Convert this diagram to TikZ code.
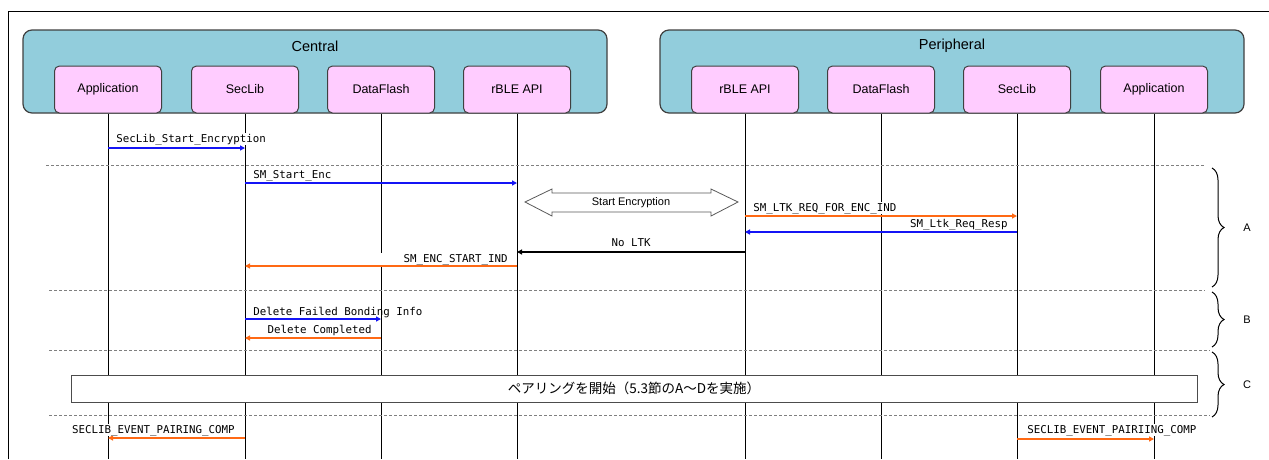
\documentclass[tikz,border=0pt]{standalone}
\usepackage{fontspec}
\setmainfont{Liberation Sans}
\newfontfamily\msgfont{DejaVu Sans Mono}
\newfontfamily\jpfont{Noto Sans CJK JP}
\usetikzlibrary{arrows.meta,decorations.pathreplacing}

\definecolor{groupblue}{RGB}{146,205,220}
\definecolor{boxpink}{RGB}{255,204,255}
\definecolor{msgblue}{RGB}{20,20,245}
\definecolor{msgorange}{RGB}{255,105,20}
\definecolor{edgegray}{RGB}{64,64,64}

\tikzset{
  groupbox/.style={draw=edgegray, line width=1.2pt, fill=groupblue, rounded corners=9pt,
    minimum width=584pt, minimum height=83pt},
  partbox/.style={draw=edgegray, line width=1pt, fill=boxpink, rounded corners=5pt,
    minimum width=107pt, minimum height=47pt, font=\fontsize{12.5}{14}\selectfont},
  lifeline/.style={line width=1pt},
  divider/.style={gray, dash pattern=on 3pt off 2pt, line width=0.8pt},
  msglabel/.style={text=black, font=\msgfont\fontsize{10.8}{12}\selectfont, inner sep=0.5pt},
  callmsg/.style={msgblue, line width=1.8pt, -{Triangle[length=5pt,width=5pt]}},
  eventmsg/.style={msgorange, line width=1.8pt, -{Triangle[length=5pt,width=5pt]}},
  phasebrace/.style={decorate, decoration={brace, amplitude=12pt}, line width=1pt},
}

\begin{document}
\begin{tikzpicture}[x=1pt,y=-1pt]
  \useasboundingbox (0,0) rectangle (1269,459);
  \draw[line width=1pt] (8,459) -- (8,11) -- (1269,11);

  \coordinate (bot) at (0,459);

  \node[groupbox] (central) at (315,71.5) {};
  \node[groupbox] (peripheral) at (952,71.5) {};
  \node[font=\fontsize{14.5}{16}\selectfont] (centraltitle) at (315,46) {Central};
  \node[font=\fontsize{14.5}{16}\selectfont] (peripheraltitle) at (952,46) {Peripheral};

  \foreach \x/\n/\t in {108/capp/Application, 245/csec/SecLib, 381/cflash/DataFlash, 517/capi/rBLE API,
                        745/papi/rBLE API, 881/pflash/DataFlash, 1017/psec/SecLib, 1154/papp/Application}{
    \node[partbox] (\n) at (\x,89.5) {\t};
    \draw[lifeline] (\n.south) -- (\n.south |- bot);
  }

  \foreach \y/\a/\b in {165/46/1205, 290/49/1205, 350/49/1210, 415/49/1210}{
    \draw[divider] (\a,\y) -- (\b,\y);
  }

  \coordinate (m1) at (0,148);
  \coordinate (m2) at (0,183);
  \coordinate (m4) at (0,216);
  \coordinate (m5) at (0,232);
  \coordinate (m6) at (0,252);
  \coordinate (m7) at (0,266);
  \coordinate (m8) at (0,319);
  \coordinate (m9) at (0,338);
  \coordinate (m11) at (0,438);
  \coordinate (m12) at (0,439);

  \draw[callmsg] (capp |- m1) -- (csec |- m1)
    node[msglabel, fill=white, pos=0, anchor=base west, xshift=7pt, yshift=6pt] {SecLib\_Start\_Encryption};
  \draw[callmsg] (csec |- m2) -- (capi |- m2)
    node[msglabel, pos=0, anchor=base west, xshift=7pt, yshift=5pt] {SM\_Start\_Enc};
  \draw[eventmsg] (papi |- m4) -- (psec |- m4)
    node[msglabel, fill=white, pos=0, anchor=base west, xshift=7pt, yshift=5pt] {SM\_LTK\_REQ\_FOR\_ENC\_IND};
  \draw[callmsg] (psec |- m5) -- (papi |- m5)
    node[msglabel, pos=0, anchor=base east, xshift=-8pt, yshift=5pt] {SM\_Ltk\_Req\_Resp};
  \draw[line width=1.8pt, -{Triangle[length=5pt,width=5pt]}] (papi |- m6) -- (capi |- m6)
    node[msglabel, midway, anchor=base, yshift=6pt] {No LTK};
  \draw[eventmsg] (capi |- m7) -- (csec |- m7)
    node[msglabel, fill=white, pos=0, anchor=base east, xshift=-8pt, yshift=4pt,
         text width=132pt, align=right] {SM\_ENC\_START\_IND};
  \draw[callmsg] (csec |- m8) -- (cflash |- m8)
    node[msglabel, pos=0, anchor=base west, xshift=7pt, yshift=4pt] {Delete Failed Bonding Info};
  \draw[eventmsg] (cflash |- m9) -- (csec |- m9)
    node[msglabel, pos=0, anchor=base east, xshift=-8pt, yshift=5pt] {Delete Completed};
  \draw[eventmsg] (csec |- m11) -- (capp |- m11)
    node[msglabel, fill=white, pos=0, anchor=base east, xshift=-9pt, yshift=5pt] {SECLIB\_EVENT\_PAIRING\_COMP};
  \draw[eventmsg] (psec |- m12) -- (papp |- m12)
    node[msglabel, fill=white, pos=0, anchor=base west, xshift=9pt, yshift=6pt] {SECLIB\_EVENT\_PAIRIING\_COMP};

  \draw[gray!70!black, line width=0.8pt] (525,202) -- (552,189) -- (552,193) -- (711,193) -- (711,189)
    -- (738,202) -- (711,216) -- (711,212) -- (552,212) -- (552,216) -- cycle;
  \node[font=\fontsize{11}{13}\selectfont] (startenc) at (631,202.5) {Start Encryption};

  \node[draw=gray!60!black, line width=0.8pt, fill=white, minimum width=1126pt, minimum height=27pt,
        font=\jpfont\fontsize{13.5}{15}\selectfont] (pairing) at (634,388.5) {ペアリングを開始（5.3節のA～Dを実施）};

  \draw[phasebrace] (1212,168) -- (1212,287) node[midway, xshift=35pt, font=\fontsize{11}{13}\selectfont] {A};
  \draw[phasebrace] (1212,292) -- (1212,347) node[midway, xshift=35pt, font=\fontsize{11}{13}\selectfont] {B};
  \draw[phasebrace] (1212,352) -- (1212,417) node[midway, xshift=35pt, font=\fontsize{11}{13}\selectfont] {C};
\end{tikzpicture}
\end{document}
